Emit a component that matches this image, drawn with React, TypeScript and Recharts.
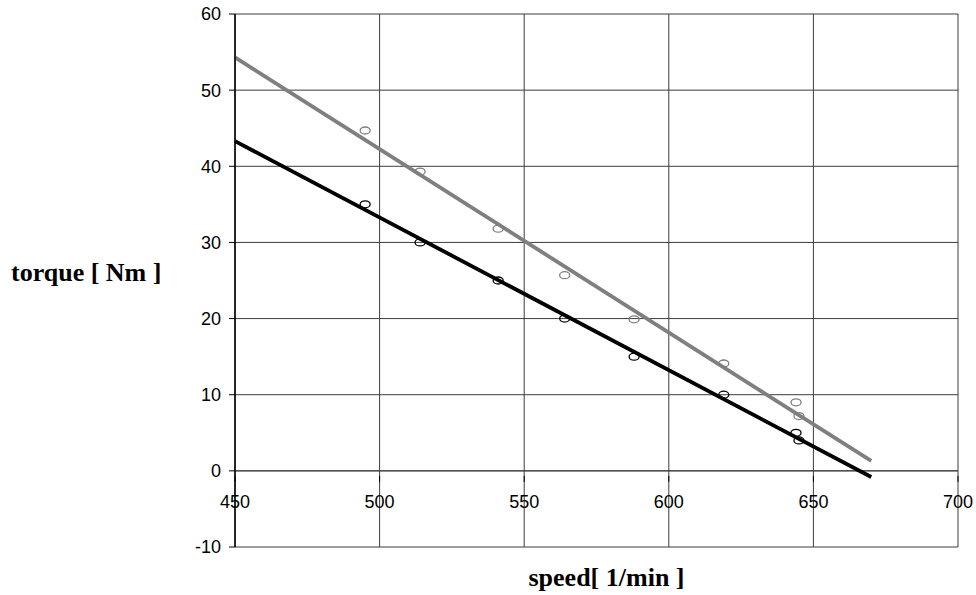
import { ComposedChart, Line, Scatter, XAxis, YAxis, CartesianGrid, ReferenceLine } from "recharts";

const blackPoints = [
  { speed: 495, torque: 35 },
  { speed: 514, torque: 30 },
  { speed: 541, torque: 25 },
  { speed: 564, torque: 20 },
  { speed: 588, torque: 15 },
  { speed: 619, torque: 10 },
  { speed: 644, torque: 5 },
  { speed: 645, torque: 4 },
];

const grayPoints = [
  { speed: 495, torque: 44.7 },
  { speed: 514, torque: 39.3 },
  { speed: 541, torque: 31.8 },
  { speed: 564, torque: 25.7 },
  { speed: 588, torque: 19.9 },
  { speed: 619, torque: 14.1 },
  { speed: 644, torque: 9 },
  { speed: 645, torque: 7.2 },
];

const blackTrend = [
  { speed: 450, torque: 43.3 },
  { speed: 670, torque: -0.8 },
];

const grayTrend = [
  { speed: 450, torque: 54.3 },
  { speed: 670, torque: 1.3 },
];

const xTicks = [450, 500, 550, 600, 650, 700];
const yTicks = [-10, 0, 10, 20, 30, 40, 50, 60];

const W = 976;
const H = 595;
const M = { top: 14, right: 18, left: 0, bottom: 0 };
const X_AXIS_H = 48;
const PLOT_H = H - M.top - M.bottom - X_AXIS_H;
// x tick labels sit on the zero line instead of the bottom edge
const ZERO_SHIFT = (PLOT_H * (0 - yTicks[0])) / (yTicks[yTicks.length - 1] - yTicks[0]);

const tickFont = "Arial, 'Liberation Sans', sans-serif";
const labelFont = "'Liberation Serif', 'Times New Roman', serif";

const XTick = (props: any) => {
  const { x, y, payload } = props;
  const zy = y - ZERO_SHIFT;
  return (
    <g>
      <line x1={x} x2={x} y1={zy - 3} y2={zy + 3} stroke="#000" />
      <text x={x} y={zy + 29} textAnchor="middle" fontFamily={tickFont} fontSize={18} fill="#000">
        {payload.value}
      </text>
    </g>
  );
};

const Ring = (color: string) => (props: any) => {
  const { cx, cy } = props;
  return <ellipse cx={cx} cy={cy} rx={5} ry={3.5} fill="none" stroke={color} strokeWidth={1.3} />;
};

export default function App() {
  return (
    <div style={{ position: "absolute", left: 0, top: 0, background: "#fff" }}>
      <ComposedChart width={W} height={H} margin={M}>
        <CartesianGrid stroke="#3c3c3c" strokeWidth={1} />
        <XAxis
          type="number"
          dataKey="speed"
          domain={[450, 700]}
          ticks={xTicks}
          height={X_AXIS_H}
          axisLine={false}
          tickLine={false}
          tick={<XTick />}
          interval={0}
          label={{
            value: "speed[ 1/min ]",
            position: "insideBottom",
            offset: 9,
            dx: 10,
            style: { fontFamily: labelFont, fontWeight: "bold", fontSize: 26, fill: "#000" },
          }}
        />
        <YAxis
          type="number"
          dataKey="torque"
          domain={[-10, 60]}
          ticks={yTicks}
          width={235}
          axisLine={{ stroke: "#000", strokeWidth: 1.5 }}
          tickLine={{ stroke: "#000" }}
          tickSize={6}
          tickMargin={8}
          interval={0}
          tick={{ fontFamily: tickFont, fontSize: 18, fill: "#000" }}
          label={{
            value: "torque [ Nm ]",
            position: "insideLeft",
            offset: 11,
            dy: -9,
            style: { fontFamily: labelFont, fontWeight: "bold", fontSize: 26, fill: "#000", textAnchor: "start" },
          }}
        />
        <ReferenceLine y={0} stroke="#3c3c3c" />
        <Line data={grayTrend} dataKey="torque" stroke="#7f7f7f" strokeWidth={3.8} dot={false} isAnimationActive={false} />
        <Line data={blackTrend} dataKey="torque" stroke="#000" strokeWidth={3.8} dot={false} isAnimationActive={false} />
        <Scatter data={grayPoints} dataKey="torque" shape={Ring("#7f7f7f")} isAnimationActive={false} />
        <Scatter data={blackPoints} dataKey="torque" shape={Ring("#000")} isAnimationActive={false} />
      </ComposedChart>
    </div>
  );
}
